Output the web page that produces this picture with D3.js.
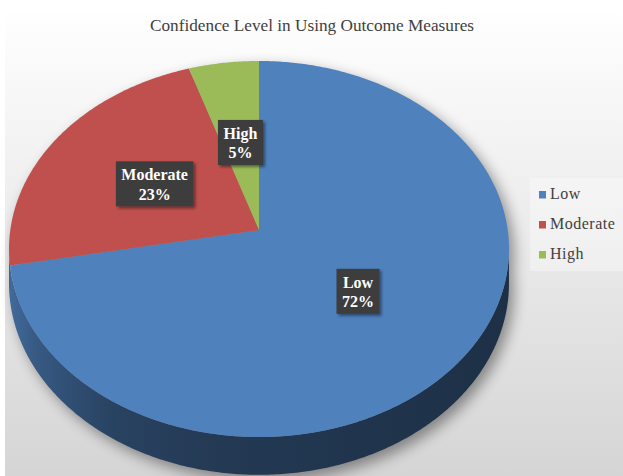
<!DOCTYPE html>
<html><head><meta charset="utf-8">
<script src="https://cdn.jsdelivr.net/npm/d3@7"></script>
<style>html,body{margin:0;padding:0;background:#fff;} svg{display:block;}</style>
</head><body><svg id="c" width="623" height="476"></svg>
<script>
// ---- data ----
const chartTitle = "Confidence Level in Using Outcome Measures";
const categories = ["Low", "Moderate", "High"];
const values = [72, 23, 5];
const percentLabels = ["72%", "23%", "5%"];
const colors = ["#4f81bd", "#c0504d", "#9bbb59"];

// ---- layout ----
const W = 623, H = 476;
const FONT = "'Liberation Serif', 'Times New Roman', serif";
const svg = d3.select("#c");
const defs = svg.append("defs");

const bg = defs.append("linearGradient").attr("id", "bg").attr("x1", 0).attr("y1", 0).attr("x2", 0).attr("y2", 1);
bg.append("stop").attr("offset", "0%").attr("stop-color", "#ffffff");
bg.append("stop").attr("offset", "100%").attr("stop-color", "#d5d5d5");

const blur = defs.append("filter").attr("id", "blur").attr("x", "-20%").attr("y", "-20%").attr("width", "140%").attr("height", "140%");
blur.append("feGaussianBlur").attr("stdDeviation", 7);

const ds = defs.append("filter").attr("id", "ds").attr("x", "-30%").attr("y", "-30%").attr("width", "160%").attr("height", "160%");
ds.append("feDropShadow").attr("dx", 2).attr("dy", 2).attr("stdDeviation", 1.5).attr("flood-color", "#000").attr("flood-opacity", 0.45);

svg.append("rect").attr("x", 5).attr("y", 8).attr("width", W - 5).attr("height", H - 8).attr("fill", "url(#bg)");

// title
svg.append("text").attr("x", 312).attr("y", 31).attr("text-anchor", "middle")
  .style("font-family", FONT).attr("font-size", 17)
  .attr("fill", "#404040").attr("textLength", 324).attr("lengthAdjust", "spacingAndGlyphs")
  .text(chartTitle);

// perspective projection of the tilted pie
const cx = 259, cy = 230, a = 248.7, b = 186.1, k = 0.101, depth = 34;
function proj(theta, r, drop) {
  const u = r * Math.sin(theta), v = r * Math.cos(theta);
  const s = 1 / (1 + k * v);
  return [cx + a * u * s, cy - b * v * s + drop * s];
}
function arcPts(t0, t1, r, drop) {
  const n = Math.max(2, Math.ceil((t1 - t0) / 0.01));
  const pts = [];
  for (let i = 0; i <= n; i++) pts.push(proj(t0 + (t1 - t0) * i / n, r, drop));
  return pts;
}
const line = d3.line();
const arcs = d3.pie().sort(null).value(d => d)(values);

// shadow
const sh = svg.append("g").attr("filter", "url(#blur)").attr("opacity", 0.4).attr("transform", "translate(5,6)");
sh.append("path").attr("d", line(arcPts(0, 2 * Math.PI, 1, 0)) + "Z").attr("fill", "#000");
sh.append("path").attr("d", line(arcPts(0, 2 * Math.PI, 1, depth)) + "Z").attr("fill", "#000");

// side walls (visible front part only), shaded with a horizontal gradient
const visLo = Math.PI / 2 + Math.asin(k), visHi = 3 * Math.PI / 2 - Math.asin(k);
const xL = proj(visHi, 1, 0)[0], xR = proj(visLo, 1, 0)[0];
const shadeStops = [[0, 0.82], [0.06, 0.68], [0.2, 0.52], [0.4, 0.45], [0.6, 0.42], [1, 0.37]];
arcs.forEach((d, i) => {
  const t0 = Math.max(d.startAngle, visLo), t1 = Math.min(d.endAngle, visHi);
  if (t1 <= t0) return;
  const base = d3.rgb(colors[i]);
  const gid = "wall" + i;
  const g = defs.append("linearGradient").attr("id", gid).attr("gradientUnits", "userSpaceOnUse")
    .attr("x1", xL).attr("y1", 0).attr("x2", xR).attr("y2", 0);
  shadeStops.forEach(s => g.append("stop").attr("offset", s[0])
    .attr("stop-color", d3.rgb(base.r * s[1], base.g * s[1], base.b * s[1])));
  const top = arcPts(t0, t1, 1, 0);
  const bot = arcPts(t0, t1, 1, depth).reverse();
  svg.append("path").attr("d", line(top.concat(bot)) + "Z").attr("fill", `url(#${gid})`);
});

// top faces
svg.append("g").selectAll("path").data(arcs).enter().append("path")
  .attr("d", d => line([proj(0, 0, 0)].concat(arcPts(d.startAngle, d.endAngle, 1, 0))) + "Z")
  .attr("fill", (d, i) => colors[i]);

// data labels
const lab = svg.append("g");
const boxW = [43, 77.5, 45];
arcs.forEach((d, i) => {
  const mid = (d.startAngle + d.endAngle) / 2;
  const p = proj(mid, 0.5, 0);
  const g = lab.append("g").attr("transform", `translate(${p[0]},${p[1]})`);
  g.append("rect").attr("x", -boxW[i] / 2).attr("y", -22.5).attr("width", boxW[i]).attr("height", 45)
    .attr("fill", "#3c3c3c").attr("filter", "url(#ds)");
  const t = g.append("text").attr("text-anchor", "middle")
    .style("font-family", FONT).attr("font-size", 16).attr("font-weight", "bold")
    .attr("fill", "#ffffff");
  t.append("tspan").attr("x", 0).attr("y", -3.5).text(categories[i]);
  t.append("tspan").attr("x", 0).attr("y", 16).text(percentLabels[i]);
});

// legend
const leg = svg.append("g");
leg.append("rect").attr("x", 530).attr("y", 178).attr("width", 93).attr("height", 93).attr("fill", "#ffffff").attr("opacity", 0.35);
const rows = leg.selectAll("g").data(categories).enter().append("g")
  .attr("transform", (d, i) => `translate(539,${199 + i * 30})`);
rows.append("rect").attr("x", 0).attr("y", -8).attr("width", 7).attr("height", 7.5).attr("fill", (d, i) => colors[i]);
rows.append("text").attr("x", 11).attr("y", 0)
  .style("font-family", FONT).attr("font-size", 16).attr("fill", "#404040")
  .attr("letter-spacing", 0.5)
  .text(d => d);
</script></body></html>
